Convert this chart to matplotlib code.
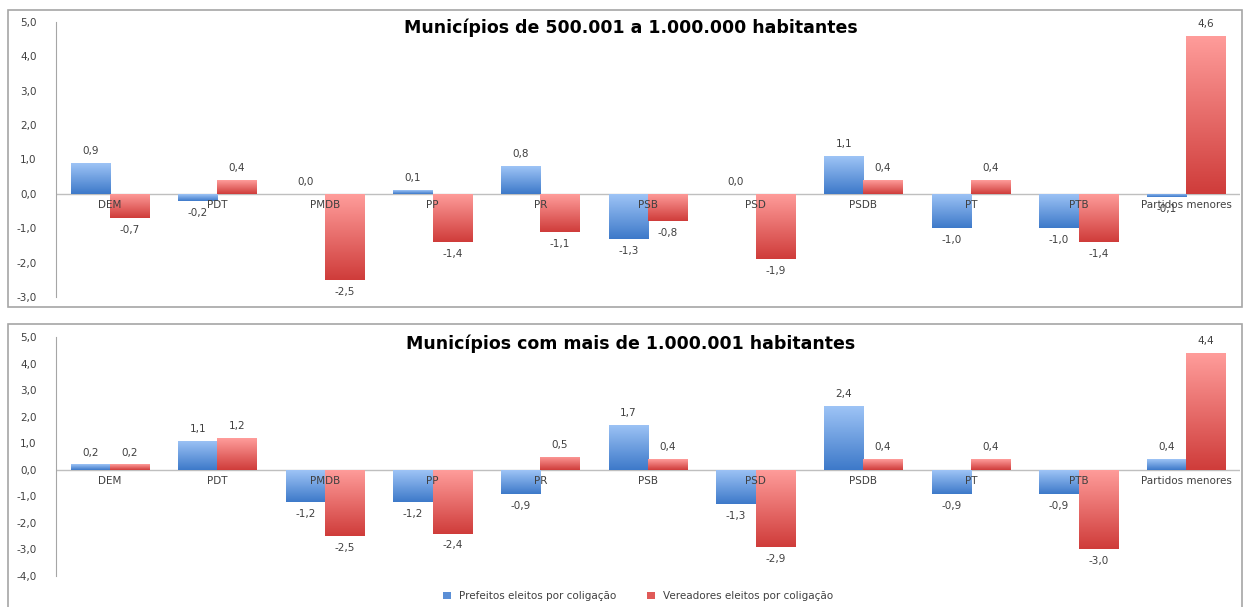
import numpy as np
import matplotlib.pyplot as plt
from matplotlib.colors import LinearSegmentedColormap
from matplotlib.patches import Rectangle, Patch

# data
partidos = ["DEM", "PDT", "PMDB", "PP", "PR", "PSB", "PSD", "PSDB", "PT", "PTB", "Partidos menores"]

titulo_1 = "Municípios de 500.001 a 1.000.000 habitantes"
prefeitos_1 = [0.9, -0.2, 0.0, 0.1, 0.8, -1.3, 0.0, 1.1, -1.0, -1.0, -0.1]
vereadores_1 = [-0.7, 0.4, -2.5, -1.4, -1.1, -0.8, -1.9, 0.4, 0.4, -1.4, 4.6]

titulo_2 = "Municípios com mais de 1.000.001 habitantes"
prefeitos_2 = [0.2, 1.1, -1.2, -1.2, -0.9, 1.7, -1.3, 2.4, -0.9, -0.9, 0.4]
vereadores_2 = [0.2, 1.2, -2.5, -2.4, 0.5, 0.4, -2.9, 0.4, 0.4, -3.0, 4.4]

series_names = ["Prefeitos eleitos por coligação", "Vereadores eleitos por coligação"]

blue_cmap = LinearSegmentedColormap.from_list("b", ["#3d79c9", "#9ec4f6"])
red_cmap = LinearSegmentedColormap.from_list("r", ["#cf3c3a", "#ff9d9b"])

fig = plt.figure(figsize=(12.44, 6.07), dpi=100)

# panel frames
fig.patches.append(Rectangle((8/1244, 1-307/607), 1234/1244, 297/607, transform=fig.transFigure,
                             fill=False, edgecolor="#a6a6a6", lw=1.2))
fig.patches.append(Rectangle((8/1244, -0.01), 1234/1244, 1-324/607+0.01, transform=fig.transFigure,
                             fill=False, edgecolor="#a6a6a6", lw=1.2))


def gradient_bars(ax, bars, cmap):
    grad = np.linspace(0, 1, 256).reshape(-1, 1)
    for b in bars:
        x0, y0 = b.get_x(), b.get_y()
        w, h = b.get_width(), b.get_height()
        if h == 0:
            continue
        lo, hi = min(y0, y0 + h), max(y0, y0 + h)
        b.set_facecolor("none")
        b.set_edgecolor("none")
        im = ax.imshow(grad, cmap=cmap, origin="lower", aspect="auto",
                       extent=(x0, x0 + w, lo, hi), zorder=2)
        im.set_clip_path(b)


def draw_panel(ax, prefeitos, vereadores, ylim, title, title_y):
    x = np.arange(len(partidos))
    w = 0.365
    b1 = ax.bar(x - w/2, prefeitos, w, color="#5b8fd6", label=series_names[0], zorder=2)
    b2 = ax.bar(x + w/2, vereadores, w, color="#e05a58", label=series_names[1], zorder=2)
    gradient_bars(ax, b1, blue_cmap)
    gradient_bars(ax, b2, red_cmap)

    for xs, vals in [(x - w/2, prefeitos), (x + w/2, vereadores)]:
        for xi, v in zip(xs, vals):
            txt = f"{v:.1f}".replace(".", ",")
            if v >= 0:
                ax.annotate(txt, (xi, v), xytext=(0, 5), textcoords="offset points",
                            ha="center", va="bottom", fontsize=7.5, color="#404040", zorder=4)
            else:
                ax.annotate(txt, (xi, v), xytext=(0, -5), textcoords="offset points",
                            ha="center", va="top", fontsize=7.5, color="#404040", zorder=4)

    # category labels next to the zero line
    for xi, name in zip(x, partidos):
        ax.annotate(name, (xi, 0), xytext=(0, -8), textcoords="offset points",
                    ha="center", va="center", fontsize=7.5, color="#404040", zorder=5)

    ax.axhline(0, color="#bfbfbf", lw=1, zorder=1)
    ax.set_xlim(-0.5, len(partidos) - 0.5)
    ax.set_ylim(*ylim)
    ax.set_yticks(np.arange(ylim[0], ylim[1] + 0.1, 1.0))
    ax.set_yticklabels([f"{t:.1f}".replace(".", ",") for t in ax.get_yticks()])
    ax.set_xticks([])
    ax.tick_params(axis="y", length=0, labelsize=7.5, labelcolor="#404040", pad=14)
    for s in ["top", "right", "bottom"]:
        ax.spines[s].set_visible(False)
    ax.spines["left"].set_color("#a6a6a6")
    fig.text(0.507, title_y, title, ha="center", va="center", fontsize=12.5, fontweight="bold")
    return b1, b2


ax1 = fig.add_axes([56/1244, 1-297/607, 1184/1244, 275/607])
draw_panel(ax1, prefeitos_1, vereadores_1, (-3, 5), titulo_1, 1-28/607)

ax2 = fig.add_axes([56/1244, 1-576/607, 1184/1244, 239/607])
draw_panel(ax2, prefeitos_2, vereadores_2, (-4, 5), titulo_2, 1-344/607)

handles = [Patch(facecolor="#5b8fd6"), Patch(facecolor="#e05a58")]
fig.legend(handles, series_names, loc="center", bbox_to_anchor=(0.513, 1-596/607), ncol=2,
           frameon=False, fontsize=7.5, handlelength=0.7, handleheight=0.7, columnspacing=3,
           labelcolor="#404040")

fig.savefig("out.png", dpi=100)
